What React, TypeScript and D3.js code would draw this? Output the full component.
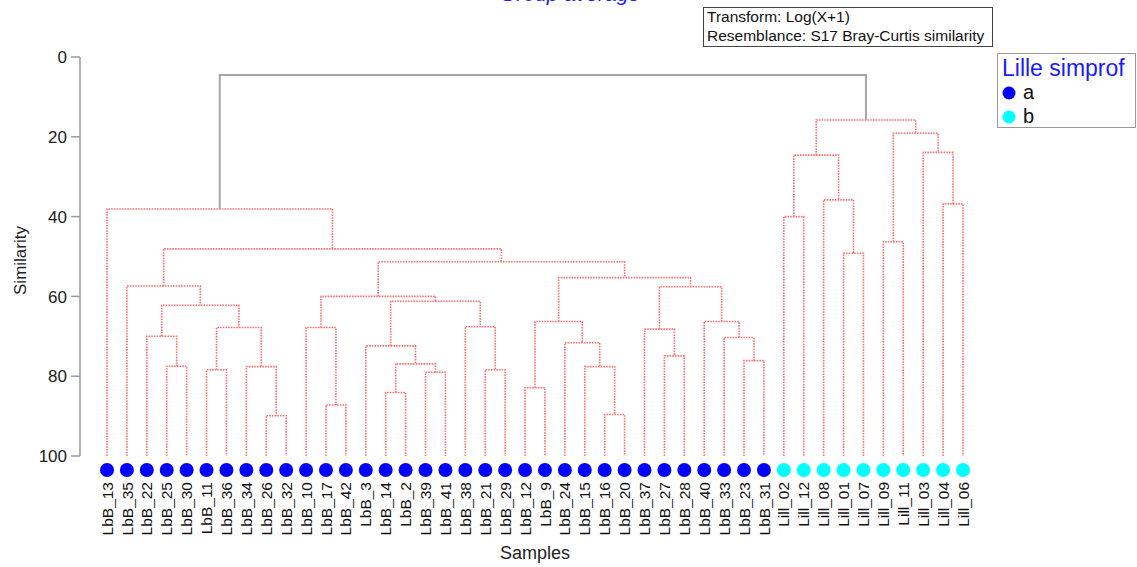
import * as d3 from "d3";

// leaf order along the x axis, as drawn
const leaves = [
  "LbB_13", "LbB_35", "LbB_22", "LbB_25", "LbB_30", "LbB_11", "LbB_36", "LbB_34",
  "LbB_26", "LbB_32", "LbB_10", "LbB_17", "LbB_42", "LbB_3", "LbB_14", "LbB_2",
  "LbB_39", "LbB_41", "LbB_38", "LbB_21", "LbB_29", "LbB_12", "LbB_9", "LbB_24",
  "LbB_15", "LbB_16", "LbB_20", "LbB_37", "LbB_27", "LbB_28", "LbB_40", "LbB_33",
  "LbB_23", "LbB_31", "Lill_02", "Lill_12", "Lill_08", "Lill_01", "Lill_07",
  "Lill_09", "Lill_11", "Lill_03", "Lill_04", "Lill_06",
];

// simprof group of each leaf
const groups = leaves.map((l) => (l.startsWith("Lill") ? "b" : "a"));
const groupNames = ["a", "b"];
const groupColors = ["#0000ff", "#00ffff"];

// merges: [child, child, similarity]; merge i is referred to as "n<i>"
const merges: [string, string, number][] = [
  ["LbB_26", "LbB_32", 89.9],
  ["LbB_16", "LbB_20", 89.6],
  ["LbB_17", "LbB_42", 87.2],
  ["LbB_14", "LbB_2", 84.1],
  ["LbB_12", "LbB_9", 82.9],
  ["LbB_39", "LbB_41", 79.0],
  ["LbB_11", "LbB_36", 78.4],
  ["LbB_21", "LbB_29", 78.4],
  ["LbB_25", "LbB_30", 77.5],
  ["LbB_34", "n0", 77.6],
  ["LbB_15", "n1", 77.6],
  ["n3", "n5", 76.9],
  ["LbB_23", "LbB_31", 76.1],
  ["LbB_27", "LbB_28", 74.9],
  ["LbB_3", "n11", 72.4],
  ["LbB_24", "n10", 71.6],
  ["LbB_33", "n12", 70.3],
  ["LbB_22", "n8", 70.0],
  ["LbB_37", "n13", 68.2],
  ["n6", "n9", 67.8],
  ["LbB_10", "n2", 67.8],
  ["LbB_38", "n7", 67.6],
  ["n4", "n15", 66.3],
  ["LbB_40", "n16", 66.3],
  ["n17", "n19", 62.2],
  ["n14", "n21", 61.2],
  ["n20", "n25", 60.0],
  ["LbB_35", "n24", 57.4],
  ["n18", "n23", 57.6],
  ["n22", "n28", 55.3],
  ["n26", "n29", 51.3],
  ["n27", "n30", 48.1],
  ["LbB_13", "n31", 38.1],
  ["Lill_01", "Lill_07", 49.2],
  ["Lill_09", "Lill_11", 46.3],
  ["Lill_02", "Lill_12", 40.0],
  ["Lill_04", "Lill_06", 36.8],
  ["Lill_08", "n33", 35.8],
  ["n35", "n37", 24.6],
  ["Lill_03", "n36", 23.9],
  ["n34", "n39", 19.1],
  ["n38", "n40", 15.8],
  ["n32", "n41", 4.5],
];

const yTicks = [0, 20, 40, 60, 80, 100];

const W = 1137;
const H = 567;

export default function App() {
  const x = d3.scalePoint<string>().domain(leaves).range([107, 963]);
  const y = d3.scaleLinear().domain([0, 100]).range([57, 456]);

  // position of every node: leaves sit at similarity 100
  const pos: Record<string, { x: number; s: number }> = {};
  leaves.forEach((l) => (pos[l] = { x: x(l) as number, s: 100 }));
  const links: { d: string; root: boolean }[] = [];
  merges.forEach(([a, b, s], i) => {
    const pa = pos[a];
    const pb = pos[b];
    pos["n" + i] = { x: (pa.x + pb.x) / 2, s };
    const path = d3.path();
    path.moveTo(pa.x, y(pa.s));
    path.lineTo(pa.x, y(s));
    path.lineTo(pb.x, y(s));
    path.lineTo(pb.x, y(pb.s));
    links.push({ d: path.toString(), root: i === merges.length - 1 });
  });

  const font = "Arial, 'Liberation Sans', sans-serif";

  return (
    <svg
      width={W}
      height={H}
      style={{ position: "absolute", left: 0, top: 0, background: "#fff", fontFamily: font }}
    >
      {/* title sits mostly above the frame, as in the original */}
      <text x={570} y={1} textAnchor="middle" fontSize={21} fontStyle="italic" fill="#1a1aff">
        Group average
      </text>

      {/* info box */}
      <rect x={703.5} y={7.5} width={289} height={39} fill="#fff" stroke="#444" />
      <text x={707} y={22} fontSize={15.5} fill="#111">Transform: Log(X+1)</text>
      <text x={707} y={41} fontSize={15.5} fill="#111">Resemblance: S17 Bray-Curtis similarity</text>

      {/* legend */}
      <rect x={997.5} y={53.5} width={138} height={74} fill="#fff" stroke="#999" />
      <text x={1002} y={76} fontSize={23} fill="#1a1aff">Lille simprof</text>
      {groupNames.map((g, i) => (
        <g key={g}>
          <circle cx={1009} cy={93 + i * 24} r={6.5} fill={groupColors[i]} />
          <text x={1023} y={99 + i * 24} fontSize={20} fill="#111">{g}</text>
        </g>
      ))}

      {/* y axis */}
      <g fill="none" stroke="#999" strokeWidth={1.5}>
        <line x1={80} x2={80} y1={y(0)} y2={y(100)} />
        {yTicks.map((t) => (
          <line key={t} x1={71} x2={80} y1={y(t)} y2={y(t)} />
        ))}
      </g>
      {yTicks.map((t) => (
        <text key={t} x={67} y={y(t)} dy="0.36em" textAnchor="end" fontSize={17} fill="#222">
          {t}
        </text>
      ))}
      <text
        transform={`translate(20,${(y(0) + y(100)) / 2 + 4}) rotate(-90)`}
        textAnchor="middle"
        dy="0.36em"
        fontSize={17}
        fill="#222"
      >
        Similarity
      </text>

      {/* dendrogram */}
      {links.map((l, i) =>
        l.root ? (
          <path key={i} d={l.d} fill="none" stroke="#a6a6a6" strokeWidth={2} />
        ) : (
          <path
            key={i}
            d={l.d}
            fill="none"
            stroke="#ff7070"
            strokeWidth={1.6}
            strokeDasharray="1.6 1.1"
          />
        )
      )}

      {/* leaves */}
      {leaves.map((l, i) => (
        <g key={l}>
          <circle cx={x(l)} cy={470} r={7} fill={groupColors[groupNames.indexOf(groups[i])]} />
          <text
            transform={`translate(${x(l)},482) rotate(-90)`}
            textAnchor="end"
            dy="0.36em"
            fontSize={15.5}
            fill="#111"
          >
            {l}
          </text>
        </g>
      ))}

      <text x={535} y={553} dy="0.36em" textAnchor="middle" fontSize={18} fill="#222">
        Samples
      </text>
    </svg>
  );
}
